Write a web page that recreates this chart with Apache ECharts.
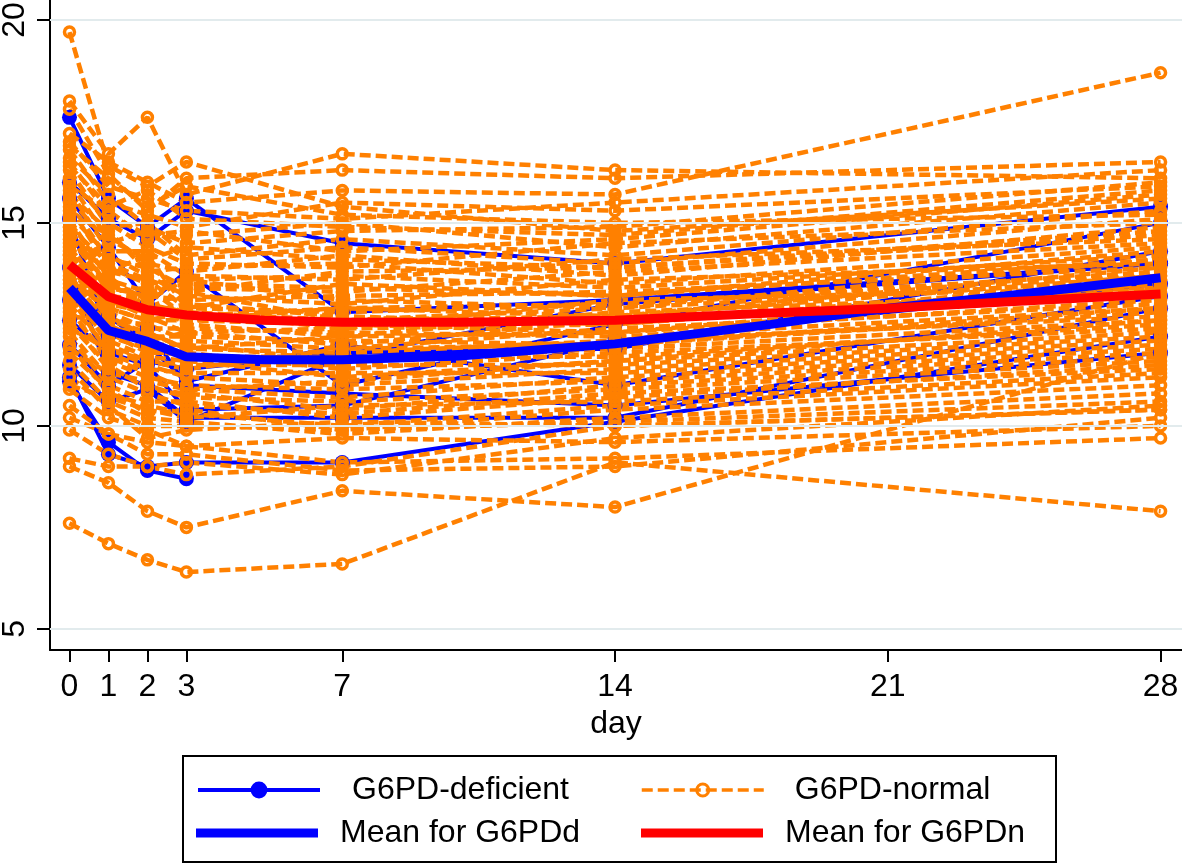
<!DOCTYPE html>
<html>
<head>
<meta charset="utf-8">
<script src="https://cdn.jsdelivr.net/npm/echarts@6/dist/echarts.min.js"></script>
<style>
html, body { margin: 0; padding: 0; background: #fff; }
#app { width: 1182px; height: 864px; }
</style>
</head>
<body>
<div id="app"></div>
<script>
// measurement days of the individual profiles
const days = [0, 1, 2, 3, 7, 14, 28];
const xTicks = [0, 1, 2, 3, 7, 14, 21, 28];
const yTicks = [5, 10, 15, 20];

// G6PD-deficient patients, one row per patient (values at days[])
const deficient = [
    [17.6, 15.6, 14.9, 15.6, 12.8, 13.1, 14.0],
    [11.1, 9.6, 8.9, 8.7, null, null, null],
    [11.2, 9.3, 9.0, 9.1, 9.1, 10.1, 12.2],
    [16.0, 15.1, 14.6, 15.3, 14.5, 14.0, 15.4],
    [15.6, 14.4, 13.0, 13.8, 11.0, 12.5, 15.0],
    [15.1, 12.2, 12.4, 11.0, 10.8, 10.5, 11.8],
    [13.9, 11.3, 11.0, 10.2, 10.2, 10.2, 12.9],
    [13.1, 12.7, 12.0, 11.1, 12.0, 11.0, 13.2],
    [12.6, 11.8, 11.5, 10.4, 10.5, 12.1, 13.5],
    [12.0, 11.0, 11.6, 11.4, 11.8, 11.9, 14.3],
    [11.5, 10.6, 10.9, 10.1, 11.7, 13.0, 14.0]
];

// G6PD-normal patients
const normal = [
    [19.7, 16.4, 15.9, 16.5, 15.4, 14.8, 15.6],
    [18.0, 16.7, 17.6, 15.7, 16.7, 16.3, 16.1],
    [17.8, 16.2, 15.3, 16.1, 16.3, 16.1, 16.5],
    [17.2, 16.5, 16.0, 15.5, 15.8, 15.7, 18.7],
    [17.0, 15.9, 15.6, 15.3, 15.1, 15.5, 16.3],
    [16.8, 15.5, 15.2, 14.9, 15.5, 15.3, 15.9],
    [16.6, 15.7, 14.9, 14.5, 14.8, 14.9, 16.0],
    [16.5, 15.2, 14.7, 14.8, 14.3, 14.6, 15.7],
    [16.3, 14.9, 15.0, 14.2, 14.6, 14.2, 15.3],
    [16.1, 15.0, 14.4, 14.0, 13.9, 14.5, 15.0],
    [16.0, 14.6, 14.1, 14.4, 14.1, 13.9, 14.8],
    [15.8, 14.3, 14.3, 13.7, 13.6, 14.1, 14.6],
    [15.7, 14.8, 13.8, 13.9, 14.0, 13.5, 14.4],
    [15.5, 14.1, 13.9, 13.4, 13.3, 13.8, 14.5],
    [15.4, 13.9, 13.5, 13.6, 13.7, 13.4, 14.2],
    [15.2, 14.2, 13.7, 13.2, 13.0, 13.6, 14.0],
    [15.1, 13.6, 13.3, 13.5, 13.4, 13.2, 14.1],
    [15.0, 13.8, 13.6, 12.9, 12.8, 13.0, 13.8],
    [14.9, 13.4, 13.2, 13.1, 13.2, 13.3, 13.9],
    [14.8, 13.7, 12.9, 13.3, 12.6, 12.9, 13.6],
    [14.7, 13.3, 13.4, 12.7, 12.9, 12.7, 13.7],
    [14.6, 13.5, 13.0, 12.8, 12.4, 13.1, 13.4],
    [14.5, 13.0, 12.8, 13.0, 12.7, 12.5, 13.5],
    [14.4, 13.2, 13.1, 12.5, 12.2, 12.8, 13.3],
    [14.3, 12.9, 12.6, 12.6, 12.5, 12.3, 13.1],
    [14.2, 13.1, 12.7, 12.3, 12.0, 12.6, 13.2],
    [14.1, 12.8, 12.4, 12.4, 12.3, 12.2, 12.9],
    [14.0, 12.6, 12.5, 12.1, 11.9, 12.4, 13.0],
    [13.9, 12.7, 12.2, 12.2, 12.1, 12.0, 12.8],
    [13.8, 12.4, 12.3, 11.9, 11.8, 12.1, 12.7],
    [13.7, 12.5, 12.0, 12.0, 11.6, 11.9, 12.6],
    [13.6, 12.2, 11.9, 11.7, 11.7, 11.7, 12.5],
    [13.5, 12.3, 11.8, 11.8, 11.4, 11.8, 12.4],
    [13.4, 12.0, 11.6, 11.5, 11.5, 11.5, 12.2],
    [13.3, 12.1, 11.7, 11.6, 11.2, 11.6, 12.3],
    [13.2, 11.8, 11.4, 11.3, 11.3, 11.3, 12.0],
    [13.0, 11.9, 11.5, 11.2, 11.0, 11.4, 12.1],
    [12.9, 11.6, 11.2, 11.0, 10.9, 11.1, 11.8],
    [12.8, 11.7, 11.3, 10.9, 10.7, 11.2, 11.9],
    [12.6, 11.4, 11.0, 10.7, 10.6, 10.9, 11.6],
    [12.5, 11.5, 10.9, 10.8, 10.4, 11.0, 11.7],
    [12.3, 11.2, 10.8, 10.5, 10.3, 10.8, 11.4],
    [12.2, 11.0, 10.6, 10.6, 10.2, 10.7, 11.5],
    [12.0, 10.8, 10.5, 10.3, 10.0, 10.5, 11.2],
    [11.8, 10.9, 10.3, 10.4, 9.9, 10.4, 11.0],
    [11.6, 10.6, 10.2, 10.1, 9.8, 10.2, 10.8],
    [11.4, 10.4, 10.0, 10.0, 9.9, 10.1, 10.6],
    [11.2, 10.5, 9.7, 9.9, 10.1, 10.0, 10.4],
    [10.9, 10.2, 9.9, 9.5, 9.7, 9.6, 10.0],
    [10.5, 9.8, 9.6, 9.5, 9.1, 9.2, 9.7],
    [10.2, 9.8, 9.3, 9.3, 8.9, 9.0, 10.2],
    [9.9, 9.3, 9.0, 9.1, 8.8, 9.7, 10.5],
    [9.2, 9.0, 9.0, 8.8, 9.0, 10.0, 10.4],
    [9.0, 8.6, 7.9, 7.5, 8.4, 8.0, 11.8],
    [7.6, 7.1, 6.7, 6.4, 6.6, 9.1, 7.9],
    [16.9, 16.1, 15.4, 15.9, 15.2, 15.0, 15.2],
    [16.4, 15.4, 15.8, 15.1, 14.9, 14.7, 15.8],
    [15.9, 15.3, 14.6, 14.7, 15.0, 14.4, 15.5],
    [15.6, 14.5, 14.8, 14.1, 14.4, 14.0, 15.1],
    [15.3, 14.7, 14.0, 13.8, 14.2, 13.7, 14.9],
    [14.9, 14.0, 13.6, 13.3, 13.8, 13.9, 14.7],
    [14.6, 13.8, 14.2, 12.9, 13.5, 13.2, 14.3],
    [14.2, 13.6, 13.1, 13.6, 13.1, 12.9, 14.1],
    [13.9, 13.0, 12.9, 12.6, 12.9, 13.0, 13.7],
    [13.6, 12.9, 12.6, 12.8, 12.6, 12.7, 13.9],
    [13.1, 12.4, 12.1, 12.3, 12.4, 12.5, 13.6],
    [12.7, 12.6, 12.3, 11.9, 12.2, 12.3, 13.4],
    [12.4, 11.9, 11.6, 11.4, 11.9, 12.0, 12.9],
    [11.9, 11.3, 11.1, 10.9, 11.1, 11.6, 12.6],
    [11.0, 10.7, 10.4, 10.2, 10.5, 10.6, 11.3]
];

// group means (smoothed curves)
const meanDays = [0, 1, 2, 3, 5, 7, 10, 14, 18, 21, 24, 28];
const meanG6PDd = [13.4, 12.35, 12.08, 11.7, 11.63, 11.63, 11.72, 12.02, 12.5, 12.9, 13.2, 13.65];
const meanG6PDn = [13.97, 13.18, 12.86, 12.73, 12.6, 12.55, 12.55, 12.6, 12.78, 12.9, 13.05, 13.25];

const BLUE = '#0000ff';
const ORANGE = '#ff8000';
const RED = '#ff0000';
const FONT = 'Liberation Sans, Arial, Helvetica, sans-serif';

const myChart = echarts.init(document.getElementById('app'));

function pairs(xs, ys) {
    return xs.map((d, i) => [d, ys[i]]);
}

let series = [];

// light horizontal grid lines at the y ticks
series.push({
    type: 'line',
    data: [],
    silent: true,
    markLine: {
        silent: true,
        symbol: 'none',
        label: { show: false },
        lineStyle: { color: '#e2ebed', width: 2, type: 'solid' },
        data: yTicks.map(v => ({ yAxis: v }))
    }
});

deficient.forEach(row => {
    series.push({
        name: 'G6PD-deficient',
        type: 'line',
        data: pairs(days, row),
        symbol: 'circle',
        symbolSize: 15,
        itemStyle: { color: BLUE },
        lineStyle: { color: BLUE, width: 4 }
    });
});

normal.forEach(row => {
    series.push({
        name: 'G6PD-normal',
        type: 'line',
        data: pairs(days, row),
        symbol: 'circle',
        symbolSize: 10,
        itemStyle: { color: 'rgba(255,255,255,0)', borderColor: ORANGE, borderWidth: 3.5 },
        lineStyle: { color: ORANGE, width: 4.5, type: [11, 5] }
    });
});

series.push({
    name: 'Mean for G6PDd',
    type: 'line',
    z: 5,
    data: pairs(meanDays, meanG6PDd),
    symbol: 'none',
    itemStyle: { color: BLUE },
    lineStyle: { color: BLUE, width: 9 }
});
series.push({
    name: 'Mean for G6PDn',
    type: 'line',
    z: 5,
    data: pairs(meanDays, meanG6PDn),
    symbol: 'none',
    itemStyle: { color: RED },
    lineStyle: { color: RED, width: 9 }
});

const legendText = { fontSize: 32, fontFamily: FONT, color: '#000' };

myChart.setOption({
    animation: false,
    backgroundColor: '#fff',
    grid: { left: 50, right: 0, top: 0, bottom: 214, containLabel: false, outerBoundsMode: 'none' },
    xAxis: {
        type: 'value',
        min: -0.5,
        max: 28.55,
        name: 'day',
        nameLocation: 'middle',
        nameGap: 52,
        nameTextStyle: { fontSize: 32, fontFamily: FONT, color: '#000' },
        axisLine: { show: true, onZero: false, lineStyle: { color: '#000', width: 2 } },
        axisTick: { show: true, length: 12, customValues: xTicks, lineStyle: { color: '#000', width: 2 } },
        axisLabel: { customValues: xTicks, margin: 21, fontSize: 32, fontFamily: FONT, color: '#000' },
        splitLine: { show: false }
    },
    yAxis: {
        type: 'value',
        min: 4.48,
        max: 20.49,
        axisLine: { show: true, onZero: false, lineStyle: { color: '#000', width: 2 } },
        axisTick: { show: true, length: 13, customValues: yTicks, lineStyle: { color: '#000', width: 2 } },
        axisLabel: { customValues: yTicks, rotate: 90, margin: 19, fontSize: 32, fontFamily: FONT, color: '#000' },
        splitLine: { show: false }
    },
    legend: [
        {
            data: ['G6PD-deficient'], left: 196, top: 774, padding: 0,
            itemWidth: 122, itemHeight: 21,
            lineStyle: { width: 4 },
            textStyle: Object.assign({ padding: [0, 0, 0, 27] }, legendText),
            selectedMode: false
        },
        {
            data: ['G6PD-normal'], left: 640, top: 774, padding: 0,
            itemWidth: 122, itemHeight: 15,
            lineStyle: { width: 3.5 },
            itemStyle: { borderWidth: 3 },
            textStyle: Object.assign({ padding: [0, 0, 0, 26] }, legendText),
            selectedMode: false
        },
        {
            data: ['Mean for G6PDd'], icon: 'rect', left: 196, top: 817, padding: 0,
            itemWidth: 122, itemHeight: 9,
            textStyle: Object.assign({ padding: [0, 0, 0, 17] }, legendText),
            selectedMode: false
        },
        {
            data: ['Mean for G6PDn'], icon: 'rect', left: 641, top: 817, padding: 0,
            itemWidth: 122, itemHeight: 9,
            textStyle: Object.assign({ padding: [0, 0, 0, 17] }, legendText),
            selectedMode: false
        }
    ],
    graphic: [{
        type: 'rect',
        shape: { x: 183, y: 756, width: 873, height: 106 },
        style: { fill: 'none', stroke: '#000', lineWidth: 2 },
        silent: true
    }],
    series: series
});
</script>
</body>
</html>
